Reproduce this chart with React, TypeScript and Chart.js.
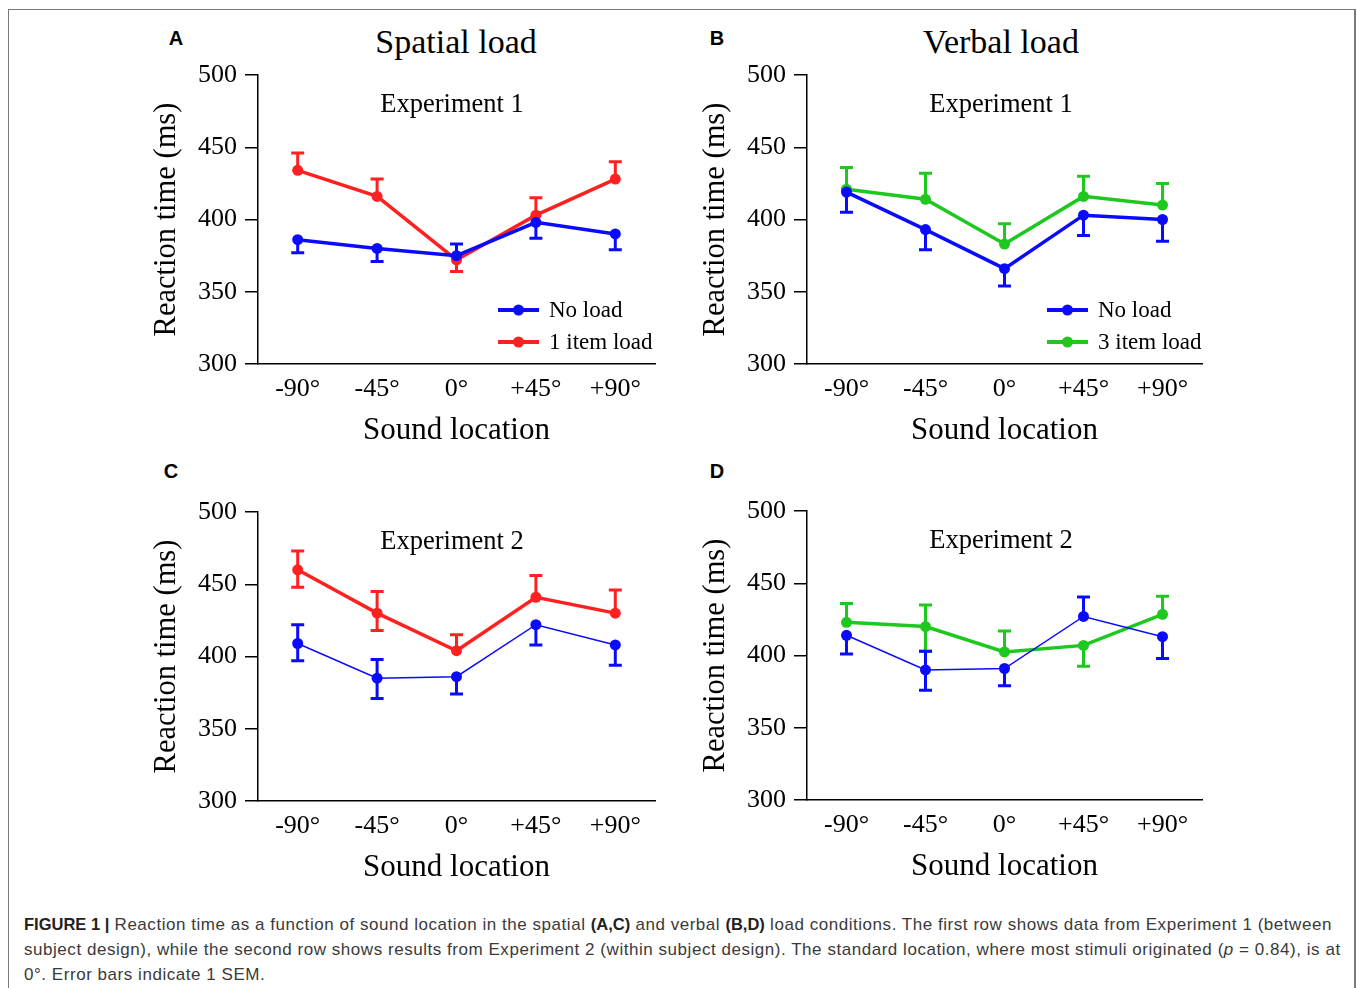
import React, { useEffect, useRef } from "react";
import { Chart, registerables } from "chart.js";

Chart.register(...registerables);

// ---------- data ----------
const categories = ["-90°", "-45°", "0°", "+45°", "+90°"];
const yTicks = [300, 350, 400, 450, 500];

// Panel A (Experiment 1, spatial)
const aNoLoad = [386, 380, 375, 398, 390];
const aNoLoadErrUp = [0, 0, 8, 0, 0];
const aNoLoadErrDown = [9, 9, 0, 11, 11];
const aItem1 = [434, 416, 372, 403, 428];
const aItem1ErrUp = [12, 12, 0, 12, 12];
const aItem1ErrDown = [0, 0, 8, 0, 0];

// Panel B (Experiment 1, verbal)
const bNoLoad = [419, 393, 366, 403, 400];
const bNoLoadErrUp = [0, 0, 0, 0, 0];
const bNoLoadErrDown = [14, 14, 12, 14, 15];
const bItem3 = [421, 414, 383, 416, 410];
const bItem3ErrUp = [15, 18, 14, 14, 15];
const bItem3ErrDown = [0, 0, 0, 0, 0];

// Panel C (Experiment 2, spatial)
const cNoLoad = [409, 385, 386, 422, 408];
const cNoLoadErrUp = [13, 13, 0, 0, 0];
const cNoLoadErrDown = [12, 14, 12, 14, 14];
const cItem1 = [460, 430, 404, 441, 430];
const cItem1ErrUp = [13, 15, 11, 15, 16];
const cItem1ErrDown = [12, 12, 0, 0, 0];

// Panel D (Experiment 2, verbal)
const dNoLoad = [414, 390, 391, 427, 413];
const dNoLoadErrUp = [0, 13, 0, 13.5, 0];
const dNoLoadErrDown = [13, 14, 12, 0, 15];
const dItem3 = [423, 420, 402.5, 407, 428.5];
const dItem3ErrUp = [13, 15, 14.5, 0, 12.5];
const dItem3ErrDown = [0, 17, 0, 14.5, 0];

const BLUE = "#0a0aff";
const RED = "#ff2020";
const GREEN = "#1ec81e";
const SERIF = "'Liberation Serif', 'Times New Roman', serif";
const SANS = "'Liberation Sans', Arial, sans-serif";

// ---------- plugin: error bars, legend, experiment label ----------
const decorPlugin = {
  id: "panelDecor",
  beforeDatasetsDraw(chart: any) {
    const ctx = chart.ctx;
    const y = chart.scales.y;
    const n = chart.data.datasets.length;
    for (let di = n - 1; di >= 0; di--) {
      const ds = chart.data.datasets[di];
      const meta = chart.getDatasetMeta(di);
      ctx.save();
      ctx.strokeStyle = ds.borderColor;
      ctx.lineWidth = 3;
      ctx.lineCap = "butt";
      meta.data.forEach((pt: any, i: number) => {
        const v = ds.data[i];
        const up = ds.errUp ? ds.errUp[i] : 0;
        const dn = ds.errDown ? ds.errDown[i] : 0;
        const x = pt.x;
        const yc = y.getPixelForValue(v);
        const ends: number[] = [];
        if (up) ends.push(y.getPixelForValue(v + up));
        if (dn) ends.push(y.getPixelForValue(v - dn));
        ends.forEach((ye) => {
          ctx.beginPath();
          ctx.moveTo(x, yc);
          ctx.lineTo(x, ye);
          ctx.moveTo(x - 6.5, ye);
          ctx.lineTo(x + 6.5, ye);
          ctx.stroke();
        });
      });
      ctx.restore();
    }
  },
  afterDraw(chart: any, _args: any, opts: any) {
    const ctx = chart.ctx;
    const area = chart.chartArea;
    ctx.save();
    ctx.fillStyle = "#000";
    ctx.font = `26.5px ${SERIF}`;
    ctx.textAlign = "center";
    ctx.textBaseline = "middle";
    ctx.fillText(opts.experiment, area.left + opts.expX, area.top + opts.expY);
    if (opts.legend) {
      ctx.font = `23px ${SERIF}`;
      ctx.textAlign = "left";
      chart.data.datasets.forEach((ds: any, i: number) => {
        const lx = area.left + opts.legX;
        const ly = area.top + opts.legY + i * 32;
        ctx.strokeStyle = ds.borderColor;
        ctx.lineWidth = 4;
        ctx.beginPath();
        ctx.moveTo(lx, ly);
        ctx.lineTo(lx + 41, ly);
        ctx.stroke();
        ctx.fillStyle = ds.borderColor;
        ctx.beginPath();
        ctx.arc(lx + 20.5, ly, 5.5, 0, Math.PI * 2);
        ctx.fill();
        ctx.fillStyle = "#000";
        ctx.fillText(ds.label, lx + 51, ly + 1);
      });
    }
    ctx.restore();
  },
};

function makeDataset(label: string, data: number[], up: number[], down: number[], color: string, width: number) {
  return {
    label,
    data,
    errUp: up,
    errDown: down,
    borderColor: color,
    backgroundColor: color,
    pointBackgroundColor: color,
    pointBorderWidth: 0,
    pointRadius: 5.5,
    borderWidth: width,
    tension: 0,
    clip: false,
  };
}

type PanelProps = {
  left: number;
  top: number;
  datasets: any[];
  experiment: string;
  legend: boolean;
  padRight: number;
};

function Panel({ left, top, datasets, experiment, legend, padRight }: PanelProps) {
  const ref = useRef<HTMLCanvasElement>(null);
  useEffect(() => {
    if (!ref.current) return;
    const chart = new Chart(ref.current, {
      type: "line",
      data: { labels: categories, datasets },
      plugins: [decorPlugin as any],
      options: {
        animation: false,
        responsive: false,
        devicePixelRatio: 1,
        layout: { padding: { top: 25, left: 0, right: padRight, bottom: 0 } },
        plugins: {
          legend: { display: false },
          tooltip: { enabled: false },
          panelDecor: {
            experiment,
            legend,
            expX: 194,
            expY: 30,
            legX: 240,
            legY: 235,
          },
        } as any,
        scales: {
          x: {
            type: "category",
            offset: true,
            grid: { display: false, drawTicks: false },
            border: { display: true, color: "#000", width: 1.5 },
            ticks: { color: "#000", font: { family: SERIF, size: 26 }, padding: 10, maxRotation: 0 },
            title: {
              display: true,
              text: "Sound location",
              color: "#000",
              font: { family: SERIF, size: 31 },
              padding: { top: 0, bottom: 11 },
            },
            afterFit(s: any) {
              s.height = 96;
            },
          },
          y: {
            min: 300,
            max: 500,
            afterBuildTicks(s: any) {
              s.ticks = yTicks.map((v) => ({ value: v }));
            },
            grid: {
              display: true,
              drawOnChartArea: false,
              drawTicks: true,
              tickLength: 13,
              color: "#000",
              lineWidth: 1.5,
            },
            border: { display: true, color: "#000", width: 1.5 },
            ticks: { color: "#000", font: { family: SERIF, size: 26 }, padding: 8 },
            title: {
              display: true,
              text: "Reaction time (ms)",
              color: "#000",
              font: { family: SERIF, size: 30.5 },
              padding: { top: 9, bottom: 0 },
            },
            afterFit(s: any) {
              s.width = 118;
            },
          },
        },
      },
    });
    return () => chart.destroy();
  }, []);
  return (
    <canvas
      ref={ref}
      width={540}
      height={410}
      style={{ position: "absolute", left, top, width: 540, height: 410 }}
    />
  );
}

const textAbs = (cx: number, cy: number, w: number, lh: number): React.CSSProperties => ({
  position: "absolute",
  left: cx - w / 2,
  top: cy - lh / 2,
  width: w,
  lineHeight: `${lh}px`,
  textAlign: "center",
  whiteSpace: "nowrap",
});

const boldStyle: React.CSSProperties = { color: "#222", fontSize: 16.5, letterSpacing: 0 };

export default function App() {
  return (
    <div style={{ position: "absolute", left: 0, top: 0, width: 1357, height: 988, overflow: "hidden", background: "#fff" }}>
      <div
        style={{
          position: "absolute",
          left: 8,
          top: 9,
          width: 1348,
          height: 1000,
          borderTop: "1px solid #7a7a7a",
          borderLeft: "1px solid #7a7a7a",
          borderRight: "2px solid #7a7a7a",
          boxSizing: "border-box",
        }}
      />
      <div style={{ ...textAbs(456, 42, 300, 40), fontFamily: SERIF, fontSize: 34 }}>Spatial load</div>
      <div style={{ ...textAbs(1001, 42, 300, 40), fontFamily: SERIF, fontSize: 34 }}>Verbal load</div>
      {[
        ["A", 176, 38],
        ["B", 717, 38],
        ["C", 171, 471],
        ["D", 717, 471],
      ].map(([t, x, y]) => (
        <div
          key={t as string}
          style={{ ...textAbs(x as number, y as number, 30, 22), fontFamily: SANS, fontWeight: "bold", fontSize: 20 }}
        >
          {t}
        </div>
      ))}
      <Panel
        left={140}
        top={50}
        experiment="Experiment 1"
        legend={true}
        padRight={25}
        datasets={[
          makeDataset("No load", aNoLoad, aNoLoadErrUp, aNoLoadErrDown, BLUE, 3.5),
          makeDataset("1 item load", aItem1, aItem1ErrUp, aItem1ErrDown, RED, 3.5),
        ]}
      />
      <Panel
        left={689}
        top={50}
        experiment="Experiment 1"
        legend={true}
        padRight={27}
        datasets={[
          makeDataset("No load", bNoLoad, bNoLoadErrUp, bNoLoadErrDown, BLUE, 3.5),
          makeDataset("3 item load", bItem3, bItem3ErrUp, bItem3ErrDown, GREEN, 3.5),
        ]}
      />
      <Panel
        left={140}
        top={487}
        experiment="Experiment 2"
        legend={false}
        padRight={25}
        datasets={[
          makeDataset("No load", cNoLoad, cNoLoadErrUp, cNoLoadErrDown, BLUE, 1.5),
          makeDataset("1 item load", cItem1, cItem1ErrUp, cItem1ErrDown, RED, 3.5),
        ]}
      />
      <Panel
        left={689}
        top={486}
        experiment="Experiment 2"
        legend={false}
        padRight={27}
        datasets={[
          makeDataset("No load", dNoLoad, dNoLoadErrUp, dNoLoadErrDown, BLUE, 1.5),
          makeDataset("3 item load", dItem3, dItem3ErrUp, dItem3ErrDown, GREEN, 3.5),
        ]}
      />
      <div
        style={{
          position: "absolute",
          left: 24,
          top: 912,
          width: 1330,
          fontFamily: SANS,
          fontSize: 17,
          letterSpacing: "0.54px",
          lineHeight: "25px",
          color: "#3a3a3a",
          whiteSpace: "nowrap",
        }}
      >
        <b style={boldStyle}>FIGURE 1 |</b> Reaction time as a function of sound location in the spatial <b style={boldStyle}>(A,C)</b> and verbal{" "}
        <b style={boldStyle}>(B,D)</b> load conditions. The first row shows data from Experiment 1 (between
        <br />
        subject design), while the second row shows results from Experiment 2 (within subject design). The standard location, where most stimuli originated (
        <i>p</i> = 0.84), is at
        <br />
        0°. Error bars indicate 1 SEM.
      </div>
    </div>
  );
}
